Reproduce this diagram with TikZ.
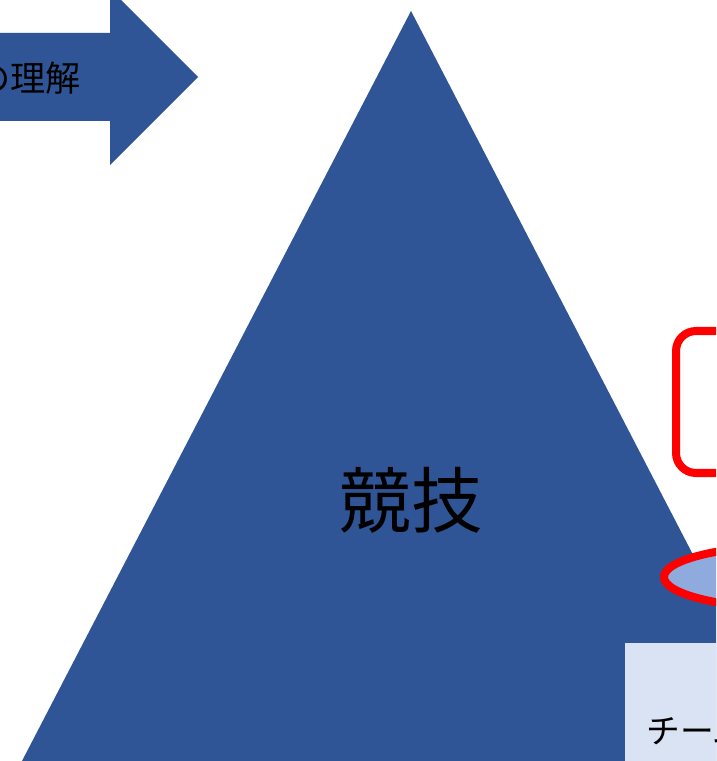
\documentclass[tikz,border=0pt]{standalone}
\usepackage{fontspec}
\newfontfamily\jpfont{Noto Sans CJK JP}
\usetikzlibrary{positioning}
\definecolor{darkblue}{HTML}{2F5597}
\definecolor{lightblue}{HTML}{8FAADC}
\definecolor{paleblue}{HTML}{DAE3F3}
\tikzset{
x=0.025cm, y=-0.025cm, % one unit is one pixel of the slide
blueshape/.style={fill=darkblue, draw=none}, % the blue arrow and the mountain
redline/.style={draw=red, line width=5.7pt}, % red outlines
jptext/.style={font=\jpfont, text=black, inner sep=0pt}, % Japanese text
}
\begin{document}
\begin{tikzpicture}
                \clip (0,0) rectangle (716,761);
                \fill[white] (0,0) rectangle (716,761);
                % arrow on the left, cut by the slide edge
                \fill[blueshape] (-200,33) -- (110,33) -- (110,-11) -- (198,77)
                    -- (110,165) -- (110,121) -- (-200,121) -- cycle;
                \node[jptext, font=\jpfont\fontsize{25}{30}\selectfont, anchor=east] (goal) at (81,78) {の理解};
                % the mountain
                \fill[blueshape] (411,11) -- (22,761) -- (800,761) -- cycle;
                \node[jptext, font=\jpfont\fontsize{51}{60}\selectfont] (sport) at (411,500) {競技};
                % red frame and red ellipse
                \draw[redline, fill=white, rounded corners=0.5cm] (676,331) rectangle (900,473);
                \draw[redline, fill=lightblue] (800,577) ellipse [x radius=136, y radius=32];
                % pale box at the bottom
                \fill[paleblue] (625,643) rectangle (900,800);
                \node[jptext, font=\jpfont\fontsize{24}{28}\selectfont, anchor=west] (team) at (646,731) {チーム};
\end{tikzpicture}
\end{document}
